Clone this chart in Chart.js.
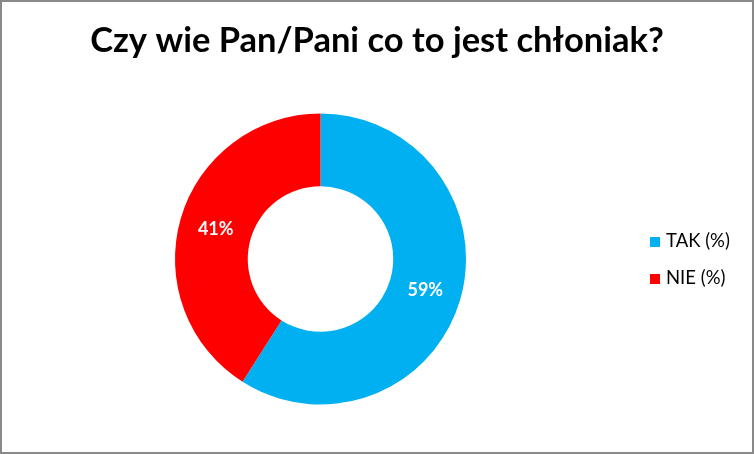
<!DOCTYPE html>
<html>
<head>
<meta charset="utf-8">
<script src="https://cdn.jsdelivr.net/npm/chart.js@4/dist/chart.umd.min.js"></script>
<style>
  html, body { margin: 0; padding: 0; background: #fff; }
  #wrap {
    position: relative;
    width: 754px; height: 454px;
    box-sizing: border-box;
    border: 2px solid #898989;
  }
  #chart { display: block; }
</style>
</head>
<body>
<div id="wrap"><canvas id="chart" width="750" height="450"></canvas></div>
<script>
// Dane wykresu
const chartTitle = 'Czy wie Pan/Pani co to jest chłoniak?';
const labels = ['TAK (%)', 'NIE (%)'];
const values = [59, 41];
const colors = ['#00B0F0', '#FF0000'];

// Tytul nad calym wykresem (wbudowany tytul jest sciskany do szerokosci obszaru)
const topTitle = {
    id: 'topTitle',
    afterDraw(chart) {
        const ctx = chart.ctx;
        ctx.save();
        ctx.fillStyle = '#000';
        ctx.font = 'bold 34.5px Lato';
        ctx.textAlign = 'center';
        ctx.textBaseline = 'alphabetic';
        ctx.fillText(chartTitle, 375, 50);
        ctx.restore();
    }
};

// Etykiety procentowe na wycinkach
const sliceLabels = {
    id: 'sliceLabels',
    afterDatasetsDraw(chart) {
        const ctx = chart.ctx;
        const meta = chart.getDatasetMeta(0);
        ctx.save();
        ctx.fillStyle = '#fff';
        ctx.font = 'bold 18px Lato';
        ctx.textAlign = 'center';
        ctx.textBaseline = 'middle';
        meta.data.forEach((arc, i) => {
            const p = arc.tooltipPosition();
            ctx.fillText(values[i] + '%', p.x, p.y + 1);
        });
        ctx.restore();
    }
};

// Legenda po prawej, rysowana recznie zeby trzymac pozycje
const sideLegend = {
    id: 'sideLegend',
    afterDraw(chart) {
        const ctx = chart.ctx;
        ctx.save();
        ctx.font = '18.5px Lato';
        ctx.textBaseline = 'alphabetic';
        ctx.textAlign = 'left';
        labels.forEach((lab, i) => {
            const y = 245 + i * 37;
            ctx.fillStyle = colors[i];
            ctx.fillRect(648, y - 10, 10, 10);
            ctx.fillStyle = '#000';
            ctx.fillText(lab, 664, y);
        });
        ctx.restore();
    }
};

new Chart(document.getElementById('chart'), {
    type: 'doughnut',
    data: {
        labels: labels,
        datasets: [{
            data: values,
            backgroundColor: colors,
            borderWidth: 0
        }]
    },
    options: {
        responsive: false,
        animation: false,
        cutout: '50%',
        layout: { padding: { left: 173, right: 286, top: 111.5, bottom: 47.5 } },
        plugins: {
            legend: { display: false },
            tooltip: { enabled: false },
            title: { display: false }
        }
    },
    plugins: [topTitle, sliceLabels, sideLegend]
});
</script>
</body>
</html>
